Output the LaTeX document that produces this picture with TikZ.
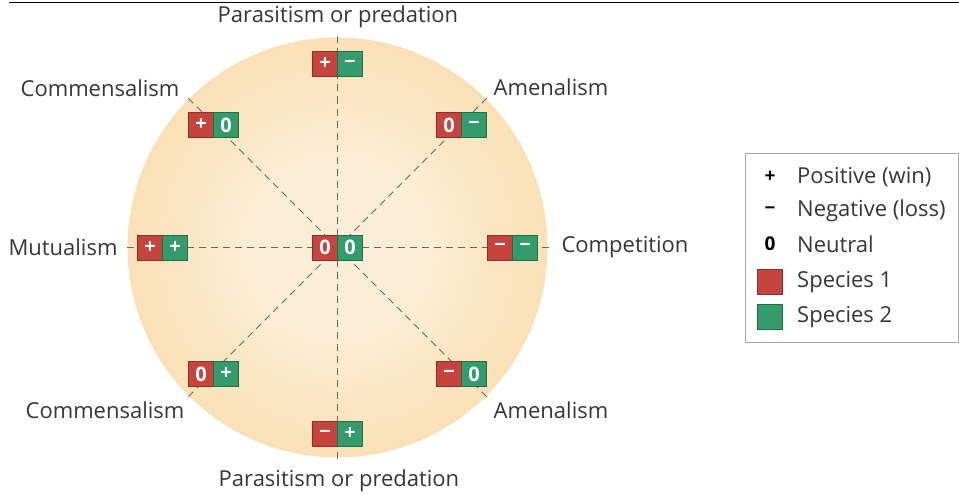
\documentclass[tikz,border=0pt]{standalone}
\usepackage{fontspec}
\setmainfont{Open Sans}
\usepackage{xcolor}
\usepackage{tikz}
\usetikzlibrary{positioning}

\definecolor{spred}{RGB}{197,68,62}
\definecolor{spgreen}{RGB}{52,156,108}
\definecolor{discin}{RGB}{252,238,214}
\definecolor{discout}{RGB}{247,201,128}
\definecolor{txtgray}{RGB}{55,55,55}
\pgfdeclareradialshading{disc}{\pgfpoint{0bp}{0bp}}{color(0bp)=(discin); color(10bp)=(discin); color(50bp)=(discout)}

\begin{document}
\begin{tikzpicture}[x=1pt,y=-1pt,
    lbl/.style={text=txtgray, font=\fontsize{22}{26}\selectfont, inner sep=0pt},
    spa/.style={fill=spred, draw=spred!70!black, text=white, minimum width=25pt, minimum height=25pt,
                inner sep=0pt, outer sep=0pt, font=\bfseries\fontsize{20}{21}\selectfont},
    spb/.style={spa, fill=spgreen, draw=spgreen!70!black},
    dashline/.style={draw=black!60, line width=1pt, dash pattern=on 7pt off 5pt},
    key/.style={minimum width=25pt, minimum height=25pt, inner sep=0pt}]
    \useasboundingbox (0,0) rectangle (959,495);
    \draw[line width=1.4pt] (9,2.5) -- (959,2.5);

    \coordinate (c) at (337.5,247.5);
    \shade[shading=disc] (c) circle (210pt);
    \foreach \a in {0,45,...,315}
        \path (c) ++(\a:211) coordinate (e\a);
    \foreach \a in {0,45,...,315}
        \draw[dashline] (c) -- (e\a);

    % interaction boxes
    \node[spa] (PT1) at (325,64) {+};
    \node[spb, right=0pt of PT1] (PT2) {−};
    \node[spa] (CU1) at (201,125) {+};
    \node[spb, right=0pt of CU1] (CU2) {0};
    \node[spa] (AU1) at (449,125) {0};
    \node[spb, right=0pt of AU1] (AU2) {−};
    \node[spa] (MU1) at (150,247.5) {+};
    \node[spb, right=0pt of MU1] (MU2) {+};
    \node[spa] (NE1) at (325,247.5) {0};
    \node[spb, right=0pt of NE1] (NE2) {0};
    \node[spa] (CO1) at (500,247.5) {−};
    \node[spb, right=0pt of CO1] (CO2) {−};
    \node[spa] (CL1) at (201,374) {0};
    \node[spb, right=0pt of CL1] (CL2) {+};
    \node[spa] (AL1) at (449,374) {−};
    \node[spb, right=0pt of AL1] (AL2) {0};
    \node[spa] (PB1) at (325,434) {−};
    \node[spb, right=0pt of PB1] (PB2) {+};

    % labels
    \node[lbl] (ptl) at (338,17) {Parasitism or predation};
    \node[lbl] (cul) at (100,88) {Commensalism};
    \node[lbl] (aul) at (551,87) {Amenalism};
    \node[lbl] (mul) at (63,247) {Mutualism};
    \node[lbl] (col) at (625,247) {Competition};
    \node[lbl] (cll) at (105,410) {Commensalism};
    \node[lbl] (all) at (551,410) {Amenalism};
    \node[lbl] (pbl) at (339,481) {Parasitism or predation};

    % legend
    \draw[draw=black!35, line width=1pt] (745,153) rectangle (958,342);
    \node[key, font=\bfseries\fontsize{19}{20}\selectfont] (kp) at (770,177) {+};
    \node[key, font=\bfseries\fontsize{19}{20}\selectfont] (km) at (770,211) {−};
    \node[key, font=\bfseries\fontsize{19}{20}\selectfont] (kz) at (770,244) {0};
    \node[key, fill=spred, draw=spred!70!black] (ks1) at (770,282) {};
    \node[key, fill=spgreen, draw=spgreen!70!black] (ks2) at (770,317) {};
    \node[lbl, anchor=west] (tp) at (797,177) {Positive (win)};
    \node[lbl, anchor=west] (tm) at (797,211) {Negative (loss)};
    \node[lbl, anchor=west] (tz) at (797,244) {Neutral};
    \node[lbl, anchor=west] (ts1) at (797,282) {Species 1};
    \node[lbl, anchor=west] (ts2) at (797,317) {Species 2};
\end{tikzpicture}
\end{document}
